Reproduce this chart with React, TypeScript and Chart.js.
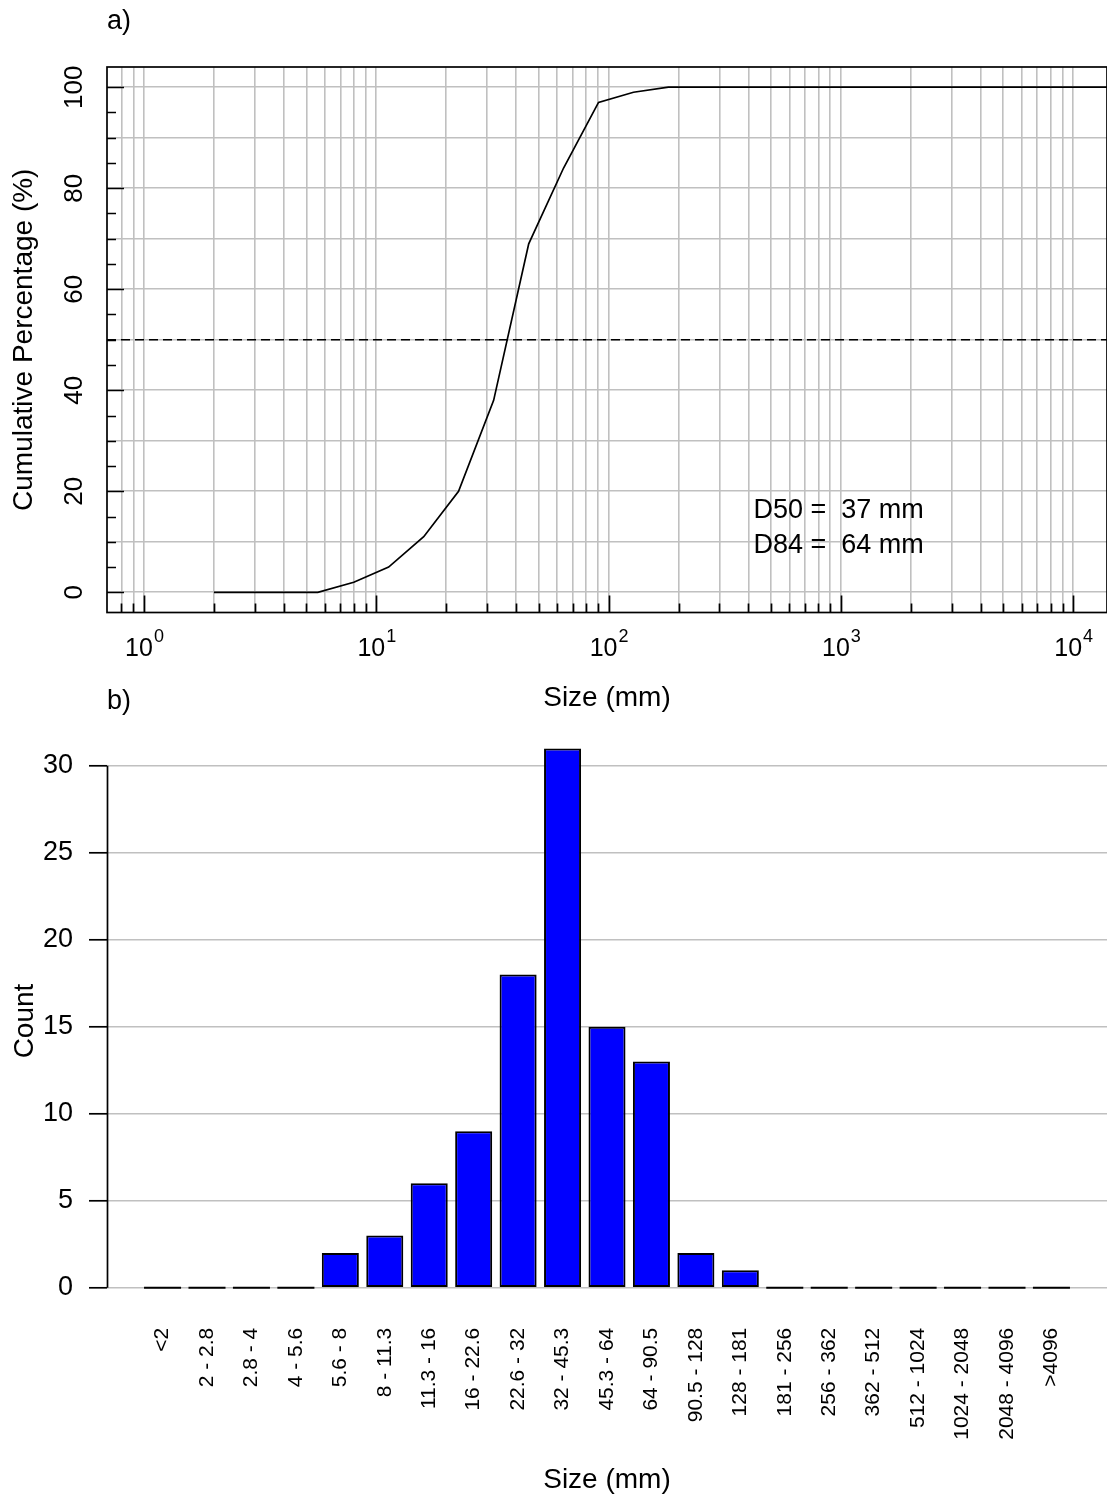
import React, { useEffect, useRef } from "react";
import { Chart, registerables } from "chart.js";

Chart.register(...registerables);

// ---- data -------------------------------------------------------------
const sizeClasses = [
  "<2", "2 - 2.8", "2.8 - 4", "4 - 5.6", "5.6 - 8", "8 - 11.3", "11.3 - 16",
  "16 - 22.6", "22.6 - 32", "32 - 45.3", "45.3 - 64", "64 - 90.5", "90.5 - 128",
  "128 - 181", "181 - 256", "256 - 362", "362 - 512", "512 - 1024",
  "1024 - 2048", "2048 - 4096", ">4096",
];
const counts = [0, 0, 0, 0, 2, 3, 6, 9, 18, 31, 15, 13, 2, 1, 0, 0, 0, 0, 0, 0, 0];

// upper bound of each class (mm) and cumulative percentage finer than it
const upperBounds = [2, 2.8, 4, 5.6, 8, 11.3, 16, 22.6, 32, 45.3, 64, 90.5, 128, 181, 256, 362, 512, 1024, 2048, 4096, 16384];
const cumulativePct = [0, 0, 0, 0, 2, 5, 11, 20, 38, 69, 84, 97, 99, 100, 100, 100, 100, 100, 100, 100, 100];

const d50 = 37;
const d84 = 64;
const referencePct = 50;

// ---- axis ticks -------------------------------------------------------
const pctLabels = [0, 20, 40, 60, 80, 100];
const pctGrid = [0, 10, 20, 30, 40, 50, 60, 70, 80, 90, 100];
const pctMinor = [0, 5, 10, 15, 20, 25, 30, 35, 40, 45, 50, 55, 60, 65, 70, 75, 80, 85, 90, 95, 100];
const decades = [1, 10, 100, 1000, 10000];
const decadeExponents = ["0", "1", "2", "3", "4"];
const logGrid = [
  0.8, 0.9,
  1, 2, 3, 4, 5, 6, 7, 8, 9,
  10, 20, 30, 40, 50, 60, 70, 80, 90,
  100, 200, 300, 400, 500, 600, 700, 800, 900,
  1000, 2000, 3000, 4000, 5000, 6000, 7000, 8000, 9000,
  10000,
];
const countTicks = [0, 5, 10, 15, 20, 25, 30];

// ---- styling ----------------------------------------------------------
const FAMILY = '"Liberation Sans", Arial, Helvetica, sans-serif';
const GRID = "#c0c0c0";
const X_MIN = 0.693;
const X_MAX = 13980;

const font = (px: number) => `${px}px ${FAMILY}`;

const cumulativeDecor = {
  id: "cumulativeDecor",
  afterDraw(chart: any) {
    const { ctx, chartArea: a, scales } = chart;
    const x = scales.x;
    const y = scales.y;
    ctx.save();
    ctx.strokeStyle = "#000";
    ctx.lineWidth = 1.7;
    ctx.strokeRect(a.left, a.top, a.right - a.left, a.bottom - a.top);

    // inward tick marks
    ctx.beginPath();
    for (const v of pctMinor) {
      const py = Math.round(y.getPixelForValue(v)) + 0.5;
      const len = pctLabels.includes(v) ? 17 : 9;
      ctx.moveTo(a.left, py);
      ctx.lineTo(a.left + len, py);
    }
    for (const v of logGrid) {
      const px = Math.round(x.getPixelForValue(v)) + 0.5;
      const len = decades.includes(v) ? 17 : 9;
      ctx.moveTo(px, a.bottom);
      ctx.lineTo(px, a.bottom - len);
    }
    ctx.stroke();

    ctx.fillStyle = "#000";
    // rotated y labels
    ctx.font = font(26);
    ctx.textAlign = "center";
    ctx.textBaseline = "alphabetic";
    for (const v of pctLabels) {
      ctx.save();
      ctx.translate(82, y.getPixelForValue(v));
      ctx.rotate(-Math.PI / 2);
      ctx.fillText(String(v), 0, 0);
      ctx.restore();
    }

    // power-of-ten x labels
    ctx.textAlign = "left";
    decades.forEach((v, i) => {
      const px = x.getPixelForValue(v);
      ctx.font = font(25);
      const wBase = ctx.measureText("10").width;
      ctx.font = font(18);
      const wExp = ctx.measureText(decadeExponents[i]).width;
      const start = px - (wBase + wExp) / 2;
      ctx.font = font(25);
      ctx.fillText("10", start, 656);
      ctx.font = font(18);
      ctx.fillText(decadeExponents[i], start + wBase + 1, 642);
    });

    // panel letter
    ctx.font = font(27);
    ctx.fillText("a)", 107, 29);

    // characteristic sizes
    const tx = x.getPixelForValue(420);
    ctx.fillText(`D50 =  ${d50} mm`, tx, y.getPixelForValue(14.7));
    ctx.fillText(`D84 =  ${d84} mm`, tx, y.getPixelForValue(7.8));
    ctx.restore();
  },
};

const histogramDecor = {
  id: "histogramDecor",
  afterDatasetsDraw(chart: any) {
    const { ctx, chartArea: a, scales } = chart;
    const y = scales.y;
    const meta = chart.getDatasetMeta(0);
    const y0 = y.getPixelForValue(0);
    ctx.save();
    ctx.strokeStyle = "#000";
    ctx.lineWidth = 2;
    // empty classes are shown as flat bars on the baseline
    meta.data.forEach((bar: any, i: number) => {
      if (counts[i] !== 0) return;
      ctx.beginPath();
      ctx.moveTo(bar.x - bar.width / 2, y0);
      ctx.lineTo(bar.x + bar.width / 2, y0);
      ctx.stroke();
    });
    // y axis line spanning the labelled range
    ctx.lineWidth = 1.7;
    ctx.beginPath();
    ctx.moveTo(a.left + 0.5, y.getPixelForValue(countTicks[0]));
    ctx.lineTo(a.left + 0.5, y.getPixelForValue(countTicks[countTicks.length - 1]));
    ctx.stroke();

    ctx.fillStyle = "#000";
    ctx.font = font(27);
    ctx.textAlign = "left";
    ctx.textBaseline = "alphabetic";
    ctx.fillText("b)", 107, 29);

    ctx.font = font(28);
    ctx.textAlign = "center";
    ctx.save();
    ctx.translate(33, 341);
    ctx.rotate(-Math.PI / 2);
    ctx.fillText("Count", 0, 0);
    ctx.restore();
    ctx.restore();
  },
};

export default function App() {
  const topRef = useRef<HTMLCanvasElement>(null);
  const bottomRef = useRef<HTMLCanvasElement>(null);

  useEffect(() => {
    const cumulative = new Chart(topRef.current as HTMLCanvasElement, {
      type: "line",
      data: {
        datasets: [
          {
            data: upperBounds.map((v, i) => ({ x: v, y: cumulativePct[i] })),
            borderColor: "#000",
            borderWidth: 1.7,
            pointRadius: 0,
            tension: 0,
          },
          {
            data: [
              { x: X_MIN, y: referencePct },
              { x: X_MAX, y: referencePct },
            ],
            borderColor: "#000",
            borderWidth: 1.3,
            borderDash: [9, 5],
            pointRadius: 0,
          },
        ],
      },
      options: {
        animation: false,
        responsive: false,
        layout: { padding: { top: 67, left: 0, right: 0, bottom: 0 } },
        plugins: { legend: { display: false }, tooltip: { enabled: false } },
        scales: {
          x: {
            type: "logarithmic",
            min: X_MIN,
            max: X_MAX,
            afterBuildTicks: (s: any) => {
              s.ticks = logGrid.map((v) => ({ value: v }));
            },
            afterFit: (s: any) => {
              s.height = 720 - 612.5;
              s.paddingLeft = 0;
              s.paddingRight = 0;
            },
            ticks: { display: false },
            grid: { color: GRID, lineWidth: 1.6, drawTicks: false },
            border: { display: false },
            title: {
              display: true,
              text: "Size (mm)",
              color: "#000",
              font: { family: FAMILY, size: 28 },
              padding: { top: 0, bottom: 5 },
            },
          },
          y: {
            min: -4,
            max: 104,
            afterBuildTicks: (s: any) => {
              s.ticks = pctGrid.map((v) => ({ value: v }));
            },
            afterFit: (s: any) => {
              s.width = 107;
            },
            ticks: { display: false },
            grid: { color: GRID, lineWidth: 1.6, drawTicks: false },
            border: { display: false },
            title: {
              display: true,
              text: "Cumulative Percentage (%)",
              color: "#000",
              font: { family: FAMILY, size: 28 },
              padding: { top: 7, bottom: 0 },
            },
          },
        },
      },
      plugins: [cumulativeDecor],
    } as any);

    const histogram = new Chart(bottomRef.current as HTMLCanvasElement, {
      type: "bar",
      data: {
        datasets: [
          {
            data: counts.map((c, i) => ({ x: i, y: c })),
            backgroundColor: "#0000ff",
            borderColor: "#000",
            borderWidth: 2,
            borderSkipped: false,
            barPercentage: 1 / 1.2,
            categoryPercentage: 1,
          },
        ],
      },
      options: {
        animation: false,
        responsive: false,
        layout: { padding: { top: 51, left: 0, right: 0, bottom: 0 } },
        plugins: { legend: { display: false }, tooltip: { enabled: false } },
        scales: {
          x: {
            type: "linear",
            offset: false,
            min: -1.25,
            max: sizeClasses.length + 0.25,
            afterBuildTicks: (s: any) => {
              s.ticks = sizeClasses.map((_, i) => ({ value: i }));
            },
            afterFit: (s: any) => {
              s.height = 818 - 607.7;
              s.paddingLeft = 0;
              s.paddingRight = 0;
            },
            ticks: {
              autoSkip: false,
              minRotation: 90,
              maxRotation: 90,
              padding: 40,
              color: "#000",
              font: { family: FAMILY, size: 21 },
              callback: (_v: any, i: number) => sizeClasses[i],
            },
            grid: { display: false, drawTicks: false, offset: false },
            border: { display: false },
            title: {
              display: true,
              text: "Size (mm)",
              color: "#000",
              font: { family: FAMILY, size: 28 },
              padding: { top: 0, bottom: 1 },
            },
          },
          y: {
            min: 0,
            max: 32,
            afterBuildTicks: (s: any) => {
              s.ticks = countTicks.map((v) => ({ value: v }));
            },
            afterFit: (s: any) => {
              s.width = 107;
            },
            ticks: {
              color: "#000",
              padding: 16,
              font: { family: FAMILY, size: 27 },
            },
            grid: {
              color: GRID,
              lineWidth: 1.6,
              drawTicks: true,
              tickLength: 18,
              tickColor: "#000",
              tickWidth: 1.7,
            },
            border: { display: false },
          },
        },
      },
      plugins: [histogramDecor],
    } as any);

    return () => {
      cumulative.destroy();
      histogram.destroy();
    };
  }, []);

  return (
    <div
      style={{
        position: "absolute",
        left: 0,
        top: 0,
        width: 1107,
        height: 1498,
        background: "#fff",
        overflow: "hidden",
      }}
    >
      <canvas ref={topRef} width={1107} height={720} style={{ position: "absolute", left: 0, top: 0 }} />
      <canvas ref={bottomRef} width={1107} height={818} style={{ position: "absolute", left: 0, top: 680 }} />
    </div>
  );
}
